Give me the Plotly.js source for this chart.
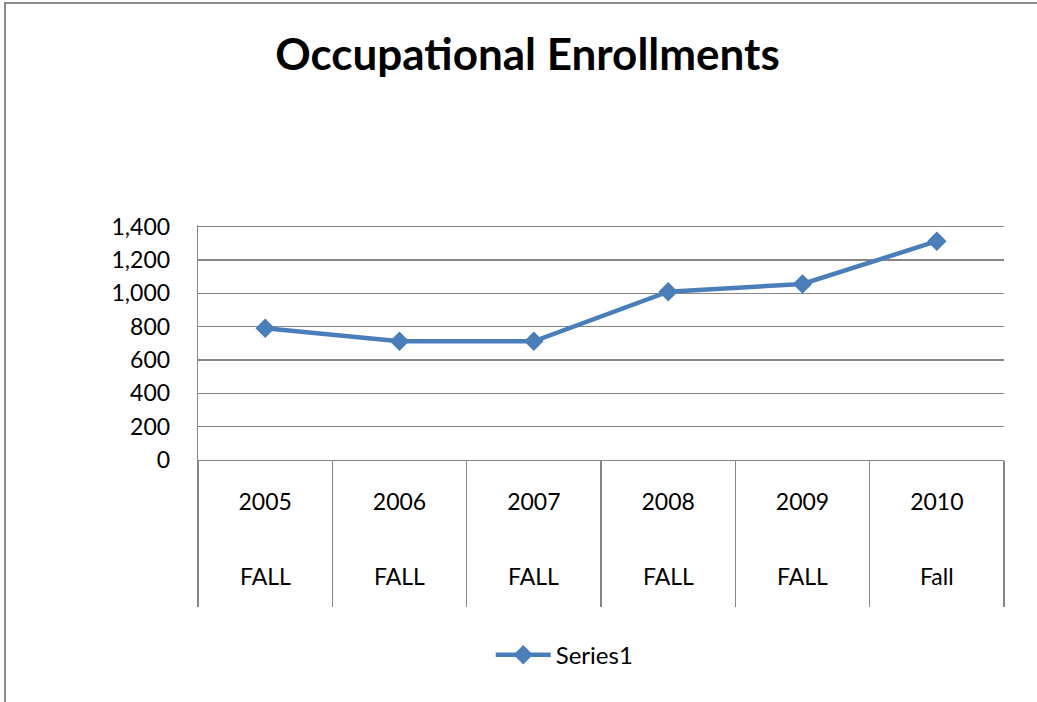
<!DOCTYPE html>
<html>
<head>
<meta charset="utf-8">
<script src="https://cdn.plot.ly/plotly-3.0.1.min.js"></script>
<style>
  html, body { margin: 0; padding: 0; background: #fff; overflow: hidden; }
  #chart { width: 1037px; height: 702px; }
  #frame { position: absolute; left: 4px; top: 2px; width: 2000px; height: 2000px;
           border-left: 2px solid #8c8c8c; border-top: 2px solid #8c8c8c; pointer-events: none; }
</style>
</head>
<body>
<div id="chart"></div>
<div id="frame"></div>
<script>
// ---- data ----
const years = ["2005", "2006", "2007", "2008", "2009", "2010"];
const seasons = ["FALL", "FALL", "FALL", "FALL", "FALL", "Fall"];
const enrollments = [790, 713, 712, 1010, 1056, 1313];
const seriesName = "Series1";
const chartTitle = "Occupational Enrollments";

const FONT = "Lato, 'Noto Sans', sans-serif";
const GRID = "#868686";
const BLUE = "#4A7EBB";

const boundaries = years.map((_, i) => i - 0.5).concat([years.length - 0.5]);

const traces = [
  {
    x: years,
    y: enrollments,
    type: "scatter",
    mode: "lines+markers",
    name: seriesName,
    line: { color: BLUE, width: 4.5 },
    marker: { symbol: "diamond", size: 15, color: BLUE },
    cliponaxis: false,
    hoverinfo: "x+y"
  },
  // invisible trace to activate the divider axis
  {
    x: [0], y: [0], xaxis: "x2", yaxis: "y", type: "scatter", mode: "markers",
    marker: { opacity: 0 }, showlegend: false, hoverinfo: "skip"
  }
];

// second row of category labels (category axis annotations use serial index)
const annotations = seasons.map((s, i) => ({
  x: i,
  xref: "x",
  y: -0.494,
  yref: "paper",
  text: s,
  showarrow: false,
  xanchor: "center",
  yanchor: "middle",
  font: { family: FONT, size: 23, color: "#000" }
}));

const layout = {
  width: 1037,
  height: 702,
  paper_bgcolor: "#fff",
  plot_bgcolor: "#fff",
  margin: { l: 198, r: 33, t: 225, b: 242, pad: 0 },
  title: {
    text: "<b>" + chartTitle + "</b>",
    font: { family: FONT, size: 44, color: "#000" },
    x: 0.5087,
    xref: "container",
    xanchor: "center",
    y: 1 - 55 / 702,
    yref: "container",
    yanchor: "middle"
  },
  showlegend: true,
  legend: {
    orientation: "h",
    x: 0.455,
    xanchor: "center",
    y: -0.83,
    yanchor: "middle",
    itemwidth: 55,
    font: { family: FONT, size: 24, color: "#000" },
    bgcolor: "rgba(0,0,0,0)"
  },
  xaxis: {
    type: "category",
    categoryarray: years,
    range: [-0.5, years.length - 0.5],
    showgrid: false,
    zeroline: false,
    showline: true,
    linecolor: GRID,
    linewidth: 1.3,
    ticks: "",
    ticklabelstandoff: 21,
    tickfont: { family: FONT, size: 23, color: "#000" },
    fixedrange: true
  },
  xaxis2: {
    type: "linear",
    overlaying: "x",
    anchor: "y",
    side: "bottom",
    range: [-0.5, years.length - 0.5],
    tickmode: "array",
    tickvals: boundaries,
    ticks: "outside",
    ticklen: 146,
    tickwidth: 1.3,
    tickcolor: GRID,
    showticklabels: false,
    showgrid: false,
    zeroline: false,
    showline: false,
    fixedrange: true
  },
  yaxis: {
    range: [0, 1410],
    tickmode: "array",
    tickvals: [0, 200, 400, 600, 800, 1000, 1200, 1400],
    tickformat: ",d",
    showgrid: true,
    gridcolor: GRID,
    gridwidth: 1.3,
    zeroline: false,
    showline: true,
    linecolor: GRID,
    linewidth: 1.3,
    mirror: false,
    ticks: "",
    ticklabelstandoff: 22,
    tickfont: { family: FONT, size: 23, color: "#000" },
    fixedrange: true
  },
  annotations: annotations
};

Plotly.newPlot("chart", traces, layout, { displayModeBar: false, staticPlot: true });
</script>
</body>
</html>
